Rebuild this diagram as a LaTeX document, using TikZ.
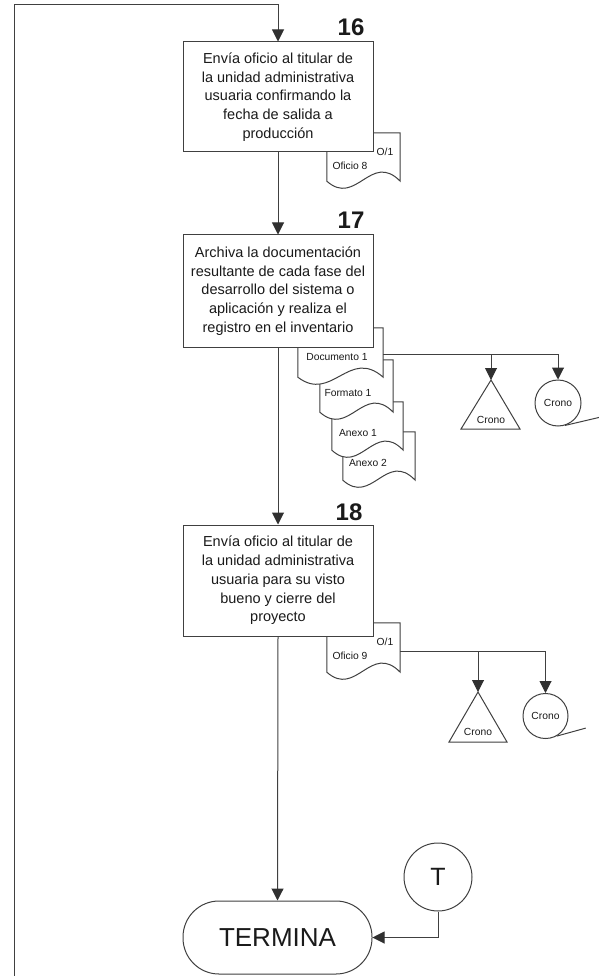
\documentclass[tikz,border=0pt]{standalone}
\usepackage{fontspec}
\setmainfont{Liberation Sans}
\usetikzlibrary{arrows.meta,calc}
\definecolor{ln}{HTML}{404040}
\definecolor{tipc}{HTML}{303030}
\definecolor{tx}{HTML}{1A1A1A}
\tikzset{
  flow/.style={draw=ln, line width=1pt},
  arr/.style={flow, -{Triangle[width=12pt,length=12pt,fill=tipc,color=tipc]}},
  stepbox/.style={draw=ln, line width=1pt, fill=white, minimum width=190pt, minimum height=110pt, inner sep=0pt, align=center, text=tx, font=\fontsize{14.5}{18.8}\selectfont},
  num/.style={font=\fontsize{24}{24}\selectfont\bfseries, text=tx, inner sep=0pt},
  docnode/.style={inner sep=0pt},
  small/.style={font=\fontsize{10.3}{11}\selectfont, text=tx, inner sep=0pt},
  crono/.style={draw=ln, line width=1pt, fill=white, circle, inner sep=0pt, font=\fontsize{10.3}{11}\selectfont, text=tx},
}
\newcommand\docdraw[1]{%
  \draw[flow, fill=white] (#1.north west) -- (#1.north east) -- (#1.south east)
    .. controls ($(#1.south east)!0.4!(#1.south west)+(0,-30)$) and ($(#1.south east)!0.6!(#1.south west)+(0,26)$) .. (#1.south west) -- cycle;}
\begin{document}
\begin{tikzpicture}[x=1pt,y=-1pt]
\useasboundingbox (0,0) rectangle (600,976);

% documents (behind boxes)
\node[docnode, minimum width=73pt, minimum height=48pt] (d8) at (363.5,157) {};
\docdraw{d8}
\node[small] (d8a) at (385,152) {O/1};
\node[small] (d8b) at (350,166) {Oficio 8};

\node[docnode, minimum width=72pt, minimum height=48pt] (a2) at (379,456) {};
\docdraw{a2}
\node[small] (a2t) at (368,463) {Anexo 2};
\node[docnode, minimum width=71pt, minimum height=48pt] (a1) at (367.5,426) {};
\docdraw{a1}
\node[small] (a1t) at (358,433) {Anexo 1};
\node[docnode, minimum width=73pt, minimum height=52pt] (f1) at (356.5,386) {};
\docdraw{f1}
\node[small] (f1t) at (348,393) {Formato 1};
\node[docnode, minimum width=85pt, minimum height=49pt] (d1) at (340.5,352.5) {};
\docdraw{d1}
\node[small] (d1t) at (337,357) {Documento 1};

\node[docnode, minimum width=73pt, minimum height=49pt] (d9) at (363.5,647.5) {};
\docdraw{d9}
\node[small] (d9a) at (385,642) {O/1};
\node[small] (d9b) at (350,656) {Oficio 9};

% process boxes
\node[stepbox] (b16) at (278,97) {Envía oficio al titular de\\la unidad administrativa\\usuaria confirmando la\\fecha de salida a\\producción};
\node[stepbox, minimum height=112pt] (b17) at (278,291) {Archiva la documentación\\resultante de cada fase del\\desarrollo del sistema o\\aplicación y realiza el\\registro en el inventario};
\node[stepbox, minimum height=111pt] (b18) at (278,580.5) {Envía oficio al titular de\\la unidad administrativa\\usuaria para su visto\\bueno y cierre del\\proyecto};

\node[num] (n16) at (351,27) {16};
\node[num] (n17) at (351,220) {17};
\node[num] (n18) at (349,512) {18};

% terminator and connector
\node[draw=ln, line width=1pt, fill=white, rounded corners=36pt, minimum width=189pt, minimum height=73pt, inner sep=0pt, font=\fontsize{26}{26}\selectfont, text=tx] (term) at (277.5,937.5) {TERMINA};
\node[draw=ln, line width=1pt, circle, minimum size=68pt, inner sep=0pt, font=\fontsize{25}{25}\selectfont, text=tx] (tc) at (438,877) {T};

% archive triangles and circles
\coordinate (t1a) at (491,380);
\draw[flow, fill=white] (t1a) -- (520,429) -- (461,429) -- cycle;
\node[small] (t1t) at (491,420) {Crono};
\node[crono, minimum size=46pt] (c1) at (558,403) {Crono};
\draw[flow] (c1.-73) -- ++(34,-8);

\coordinate (t2a) at (478,692);
\draw[flow, fill=white] (t2a) -- (507,742) -- (449,742) -- cycle;
\node[small] (t2t) at (478,732) {Crono};
\node[crono, minimum size=45pt] (c2) at (545.5,716) {Crono};
\draw[flow] (c2.-61) -- ++(29,-8);

% connectors
\coordinate (lb) at (14,980);
\coordinate (lt) at (14,5);
\draw[arr] (lb) -- (lt) -| (b16.north);
\draw[arr] (b16.south) -- (b17.north);
\draw[arr] (b17.south) -- (b18.north);
\draw[arr] (b18.south) -- (term.north);
\draw[arr] (tc.south) |- (term.east);

\coordinate (d1out) at ($(d1.north east)+(0,27)$);
\draw[arr] (d1out) -| (t1a);
\draw[arr] (d1out) -| (c1.north);
\coordinate (d9out) at ($(d9.north east)+(0,29)$);
\draw[arr] (d9out) -| (t2a);
\draw[arr] (d9out) -| (c2.north);
\end{tikzpicture}
\end{document}
